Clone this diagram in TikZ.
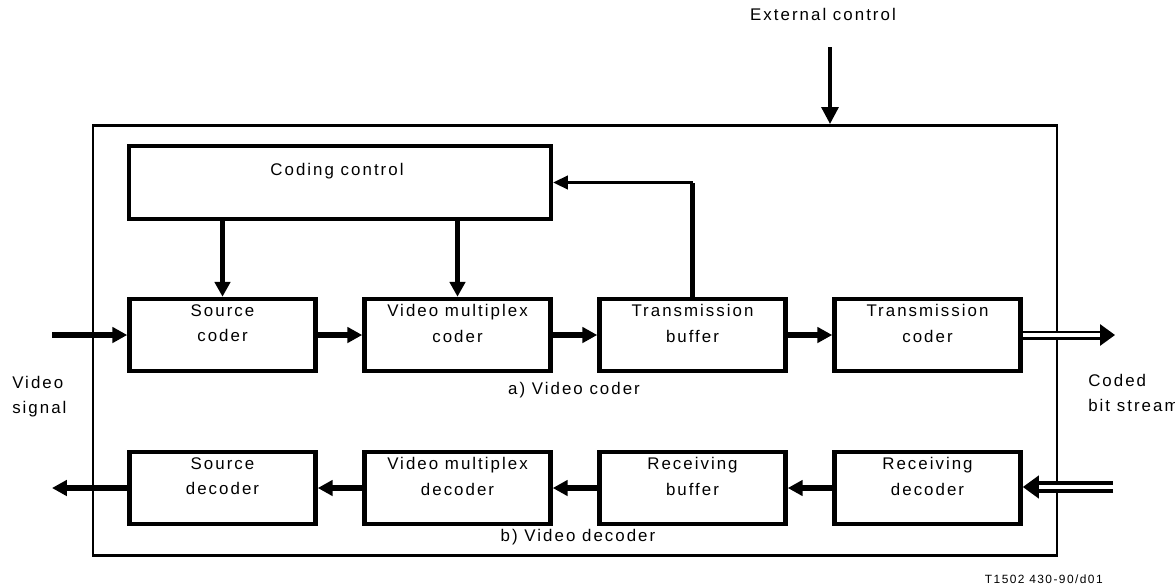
\documentclass[tikz,border=0pt]{standalone}
\usepackage{fontspec}
\setmainfont{Liberation Sans}[LetterSpace=12]
\usetikzlibrary{arrows.meta}

\begin{document}
\begin{tikzpicture}[x=0.025cm,y=-0.025cm,
  blk/.style={draw,line width=3.2pt,minimum width=4.65cm,minimum height=1.8cm,
    label={[anchor=north,align=center,yshift=-2pt,
      font=\fontsize{12}{18}\selectfont]north:#1}},
  arr/.style={line width=3.8pt,-{Triangle[length=0.37cm,width=0.38cm]}},
  thinarr/.style={line width=1.8pt,-{Triangle[length=0.37cm,width=0.34cm]}},
  dbl/.style={double,double distance=2.4pt,line width=2pt,
    -{Triangle[length=0.37cm,width=0.52cm]}},
  dblin/.style={double,double distance=2.2pt,line width=3pt,
    -{Triangle[length=0.4cm,width=0.55cm]}},
  txt/.style={font=\fontsize{12}{17.5}\selectfont,inner sep=0pt}]
  \useasboundingbox (0,0) rectangle (1175,585);

  % outer frame and external control
  \node[draw,line width=1.8pt,minimum width=24.09cm,minimum height=10.76cm] (frame) at (575,340.5) {};
  \node[txt,anchor=base] (ext) at (823,21) {External control};
  \coordinate (extin) at (830,47);
  \draw[line width=2.4pt,-{Triangle[length=0.42cm,width=0.42cm]}] (extin) -- (extin |- frame.north);

  % a) video coder
  \node[draw,line width=3pt,minimum width=10.55cm,minimum height=1.83cm] (cc) at (340,182.5) {};
  \node[txt,anchor=base] (cclab) at (337,175) {Coding control};
  \node[blk={Source\\coder}] (sc) at (222.5,335) {};
  \node[blk={Video multiplex\\coder}] (vmc) at (457.5,335) {};
  \node[blk={Transmission\\buffer}] (tb) at (692.5,335) {};
  \node[blk={Transmission\\coder}] (tc) at (927.5,335) {};
  \node[txt,anchor=base] (alab) at (574,394) {a) Video coder};

  \coordinate (vin) at (52,335);
  \coordinate (cbout) at (1115,335);
  \draw[arr] (vin) -- (sc.west);
  \draw[arr] (sc) -- (vmc);
  \draw[arr] (vmc) -- (tb);
  \draw[arr] (tb) -- (tc);
  \draw[dbl] (tc.east) -- (cbout);
  \draw[arr] (cc.south -| sc.north) -- (sc.north);
  \draw[arr] (cc.south -| vmc.north) -- (vmc.north);
  \draw[line width=3.8pt] (tb.north) -- (tb.north |- cc.east);
  \draw[thinarr] (tb.north |- cc.east) -- (cc.east);

  % b) video decoder
  \node[blk={Source\\decoder}] (sd) at (222.5,488) {};
  \node[blk={Video multiplex\\decoder}] (vmd) at (457.5,488) {};
  \node[blk={Receiving\\buffer}] (rb) at (692.5,488) {};
  \node[blk={Receiving\\decoder}] (rd) at (927.5,488) {};
  \node[txt,anchor=base] (blab) at (578,541) {b) Video decoder};

  \coordinate (vout) at (52,488);
  \coordinate (cbin) at (1113,487);
  \draw[dblin] (cbin) -- (cbin -| rd.east);
  \draw[arr] (rd) -- (rb);
  \draw[arr] (rb) -- (vmd);
  \draw[arr] (vmd) -- (sd);
  \draw[arr] (sd.west) -- (vout);

  % outside labels
  \node[txt,anchor=north west,align=left] (vsig) at (12,376) {Video\\signal};
  \node[txt,anchor=north west,align=left] (cbs) at (1088,374) {Coded\\bit stream};
  \node[txt,font=\fontsize{8.5}{10}\selectfont,anchor=base east] (ref) at (1103,583) {T1502 430-90/d01};
\end{tikzpicture}
\end{document}
